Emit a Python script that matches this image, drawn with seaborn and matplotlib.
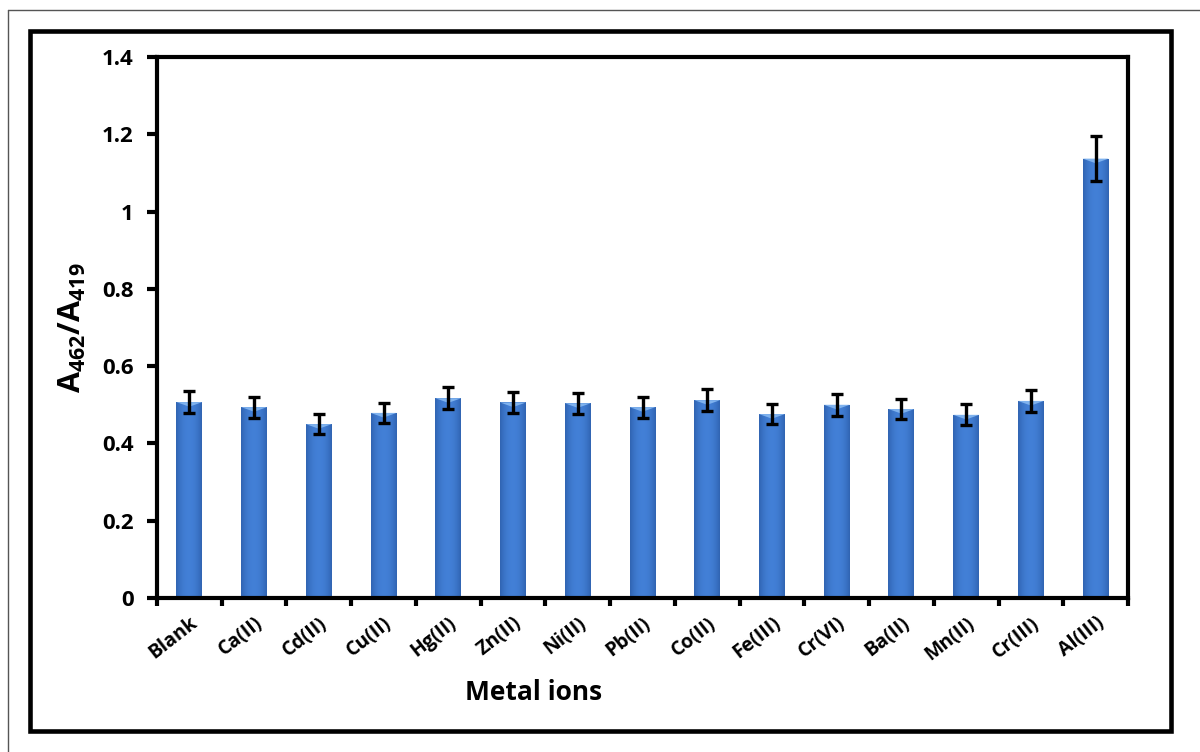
import numpy as np
import pandas as pd
import matplotlib
matplotlib.use("Agg")
import matplotlib.pyplot as plt
from matplotlib.patches import Rectangle
from matplotlib.lines import Line2D
import seaborn as sns

# Selectivity data: absorbance ratio for each metal ion
ions = ["Blank", "Ca(II)", "Cd(II)", "Cu(II)", "Hg(II)", "Zn(II)", "Ni(II)", "Pb(II)",
        "Co(II)", "Fe(III)", "Cr(VI)", "Ba(II)", "Mn(II)", "Cr(III)", "Al(III)"]
ratio = [0.507, 0.494, 0.450, 0.479, 0.517, 0.506, 0.504, 0.494,
         0.512, 0.476, 0.500, 0.489, 0.474, 0.510, 1.137]
err = [0.028, 0.027, 0.025, 0.026, 0.028, 0.028, 0.027, 0.027,
       0.028, 0.027, 0.028, 0.027, 0.027, 0.028, 0.058]
yticks = [0, 0.2, 0.4, 0.6, 0.8, 1, 1.2, 1.4]
ytick_labels = ["0", "0.2", "0.4", "0.6", "0.8", "1", "1.2", "1.4"]

df = pd.DataFrame({"ion": ions, "ratio": ratio, "err": err})

sns.set_theme(style="white")
FONT = "Open Sans"
plt.rcParams["font.family"] = [FONT, "DejaVu Sans"]
plt.rcParams["font.weight"] = "bold"
plt.rcParams["text.color"] = "black"
plt.rcParams["axes.labelcolor"] = "black"
plt.rcParams["xtick.color"] = "black"
plt.rcParams["ytick.color"] = "black"
plt.rcParams["mathtext.fontset"] = "custom"
plt.rcParams["mathtext.rm"] = f"{FONT}:bold"
plt.rcParams["mathtext.bf"] = f"{FONT}:bold"
plt.rcParams["mathtext.it"] = f"{FONT}:bold"

W, H = 1200, 752
fig = plt.figure(figsize=(W / 100, H / 100), dpi=100)
fig.patch.set_facecolor("white")

ax = fig.add_axes([157 / W, 1 - 598 / H, (1128 - 157) / W, (598 - 57) / H])

sns.barplot(data=df, x="ion", y="ratio", order=ions, color="#3d7cd0",
            width=0.4, ax=ax, errorbar=None, saturation=1, linewidth=0)

# cylinder-like shading on each bar
grad = np.linspace(0, 1, 64)
shade = 1 - 0.55 * (2 * np.abs(grad - 0.5)) ** 2.2
base = np.array([0.26, 0.50, 0.84])
dark = np.array([0.13, 0.30, 0.58])
img = np.empty((1, 64, 3))
for i in range(3):
    img[0, :, i] = dark[i] + (base[i] - dark[i]) * shade
for p in ax.patches:
    x0, y0 = p.get_x(), p.get_y()
    w, h = p.get_width(), p.get_height()
    im = ax.imshow(img, extent=[x0, x0 + w, y0, y0 + h], aspect="auto",
                   zorder=p.get_zorder() + 0.1, interpolation="bilinear")
    im.set_clip_path(p)
    # light cap at the top of the bar
    ax.fill([x0, x0 + w, x0 + w / 2], [y0 + h, y0 + h, y0 + h - 0.012],
            color="#7fb2ee", zorder=p.get_zorder() + 0.2, lw=0)

ax.errorbar(np.arange(len(ions)), df["ratio"], yerr=df["err"], fmt="none",
            ecolor="black", elinewidth=2.4, capsize=4, capthick=2.4, zorder=5)

ax.set_xlim(-0.5, len(ions) - 0.5)
ax.set_ylim(0, 1.4)
ax.set_yticks(yticks)
ax.set_yticklabels(ytick_labels, fontsize=16, fontweight="bold", color="black")
ax.tick_params(axis="y", which="major", direction="out", length=7, width=3,
               color="black", pad=10, left=True)

ax.set_xticks(np.arange(len(ions)))
ax.set_xticklabels(ions, rotation=38, ha="right", rotation_mode="anchor",
                   fontsize=14, fontweight="bold", color="black")
ax.tick_params(axis="x", which="major", length=0, pad=11)
ax.set_xticks(np.arange(-0.5, len(ions)), minor=True)
ax.tick_params(axis="x", which="minor", direction="out", length=6, width=3,
               color="black", bottom=True)

for s in ax.spines.values():
    s.set_visible(True)
    s.set_linewidth(3)
    s.set_color("black")

ax.set_xlabel("Metal ions", fontsize=19, fontweight="bold", color="black")
ax.xaxis.set_label_coords((534 - 157) / (1128 - 157), -(692 - 598) / (598 - 57))
ax.xaxis.label.set_va("center")
ax.set_ylabel(r"A$_{462}$/A$_{419}$", fontsize=22, fontweight="bold", color="black")
ax.yaxis.set_label_coords(-(157 - 72) / (1128 - 157), 0.5)
ax.yaxis.label.set_va("center")

# chart frame
fig.add_artist(Rectangle((29.5 / W, 1 - 730.5 / H), (1171 - 29.5) / W, (730.5 - 31) / H,
                         transform=fig.transFigure, fill=False, lw=3.3, ec="black"))
fig.add_artist(Line2D([8 / W, 1], [1 - 10 / H, 1 - 10 / H], transform=fig.transFigure,
                      color="#555555", lw=1))
fig.add_artist(Line2D([8 / W, 8 / W], [0, 1 - 10 / H], transform=fig.transFigure,
                      color="#555555", lw=1))

fig.savefig("out.png", dpi=100)
